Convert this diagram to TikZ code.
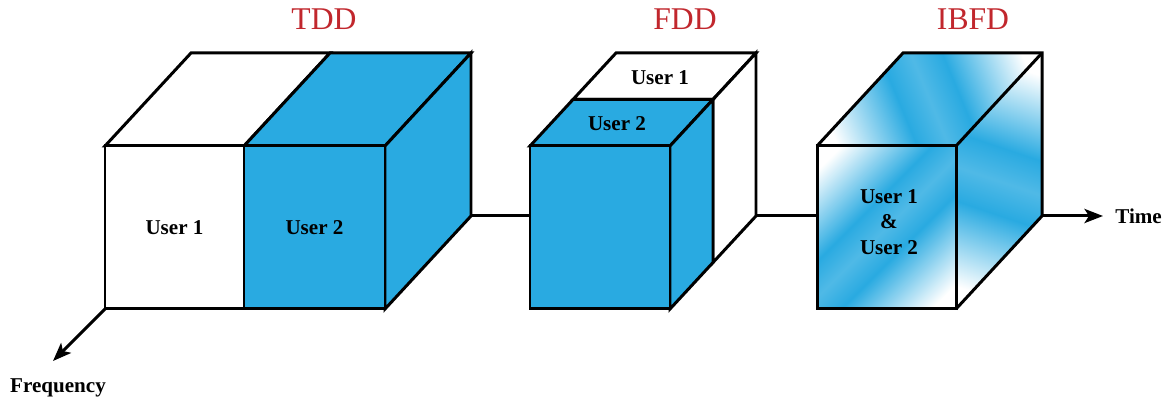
\documentclass[tikz,border=0pt]{standalone}
\usepackage{fontspec}
\setmainfont{Liberation Serif}
\usepackage{tikz}
\usetikzlibrary{positioning, calc, arrows.meta}
\tikzset{>={Stealth[length=10.5pt,width=8pt,inset=2.5pt]}}
\definecolor{userblue}{RGB}{41,170,225}
\definecolor{labelred}{RGB}{193,39,45}
\pgfdeclarehorizontalshading{ibfdband}{100bp}{color(0bp)=(white); color(25bp)=(white); color(29bp)=(white); color(44bp)=(userblue); color(50bp)=(userblue!82); color(56bp)=(userblue); color(71bp)=(white); color(75bp)=(white); color(100bp)=(white)}

\begin{document}
\begin{tikzpicture}[line width=1.7pt, line join=miter,
    white face/.style={draw=black, fill=white},
    blue face/.style={draw=black, fill=userblue},
    title/.style={text=labelred, font=\fontsize{18}{21}\selectfont},
    user/.style={font=\fontsize{12}{14.5}\selectfont\bfseries, align=center},
    axislabel/.style={font=\fontsize{12}{14.5}\selectfont\bfseries}]
    \useasboundingbox (0,0) rectangle (23.4,8.06);
    % TDD
    \filldraw[white face] (2.1,5.14) -- (4.88,5.14) -- (6.6,7.0) -- (3.82,7.0) -- cycle;
    \filldraw[blue face] (4.88,5.14) -- (7.7,5.14) -- (9.42,7.0) -- (6.6,7.0) -- cycle;
    \filldraw[blue face] (7.7,1.88) -- (9.42,3.74) -- (9.42,7.0) -- (7.7,5.14) -- cycle;
    \filldraw[white face] (2.1,1.88) rectangle (4.88,5.14);
    \filldraw[blue face] (4.88,1.88) rectangle (7.7,5.14);
    \coordinate (tdd-corner) at (2.1,1.88);
    \coordinate (tdd-out) at (9.42,3.74);
    \node[title] (tdd) at (6.48,7.68) {TDD};
    \node[user] (tdd-u1) at (3.49,3.51) {User 1};
    \node[user] (tdd-u2) at (6.29,3.51) {User 2};
    % FDD
    \filldraw[white face] (11.46,6.07) -- (14.26,6.07) -- (15.12,7.0) -- (12.32,7.0) -- cycle;
    \filldraw[white face] (14.26,2.81) -- (15.12,3.74) -- (15.12,7.0) -- (14.26,6.07) -- cycle;
    \filldraw[blue face] (10.6,5.14) -- (13.4,5.14) -- (14.26,6.07) -- (11.46,6.07) -- cycle;
    \filldraw[blue face] (13.4,1.88) -- (14.26,2.81) -- (14.26,6.07) -- (13.4,5.14) -- cycle;
    \filldraw[blue face] (10.6,1.88) rectangle (13.4,5.14);
    \coordinate (fdd-in) at (10.6,3.74);
    \coordinate (fdd-out) at (15.12,3.74);
    \node[title] (fdd) at (13.7,7.68) {FDD};
    \node[user] (fdd-u1) at (13.2,6.5) {User 1};
    \node[user] (fdd-u2) at (12.34,5.58) {User 2};
    % IBFD, each face shaded along its own diagonal
    \begin{scope}
        \clip (16.34,5.14) -- (19.12,5.14) -- (20.84,7.0) -- (18.06,7.0) -- cycle;
        \shade[shading=ibfdband, transform canvas={rotate around={22.5:(18.59,6.07)}}] (18.59,6.07) ++(-2.44,-4) rectangle ++(4.88,8);
    \end{scope}
    \begin{scope}
        \clip (19.12,1.88) -- (20.84,3.74) -- (20.84,7.0) -- (19.12,5.14) -- cycle;
        \shade[shading=ibfdband, transform canvas={rotate around={71.4:(19.98,4.44)}}] (19.98,4.44) ++(-2.7,-4) rectangle ++(5.4,8);
    \end{scope}
    \begin{scope}
        \clip (16.34,1.88) rectangle (19.12,5.14);
        \shade[shading=ibfdband, transform canvas={rotate around={-45:(17.73,3.51)}}] (17.73,3.51) ++(-2.13,-4) rectangle ++(4.26,8);
    \end{scope}
    \draw (16.34,5.14) -- (18.06,7.0) -- (20.84,7.0) -- (20.84,3.74) -- (19.12,1.88);
    \draw (19.12,5.14) -- (20.84,7.0);
    \draw (16.34,1.88) rectangle (19.12,5.14);
    \coordinate (ibfd-in) at (16.34,3.74);
    \coordinate (ibfd-out) at (20.84,3.74);
    \node[title] (ibfd) at (19.46,7.68) {IBFD};
    \node[user] (ibfd-u) at (17.78,3.62) {User 1\\\&\\User 2};
    % axes
    \coordinate (time-end) at (22.06,3.74);
    \coordinate (freq-end) at (1.06,0.84);
    \draw (tdd-out) -- (fdd-in);
    \draw (fdd-out) -- (ibfd-in);
    \draw[->] (ibfd-out) -- (time-end);
    \draw[->] (tdd-corner) -- (freq-end);
    \node[axislabel, right=0.1cm of time-end] (time) {Time};
    \node[axislabel] (freq) at (1.16,0.3) {Frequency};
\end{tikzpicture}
\end{document}
